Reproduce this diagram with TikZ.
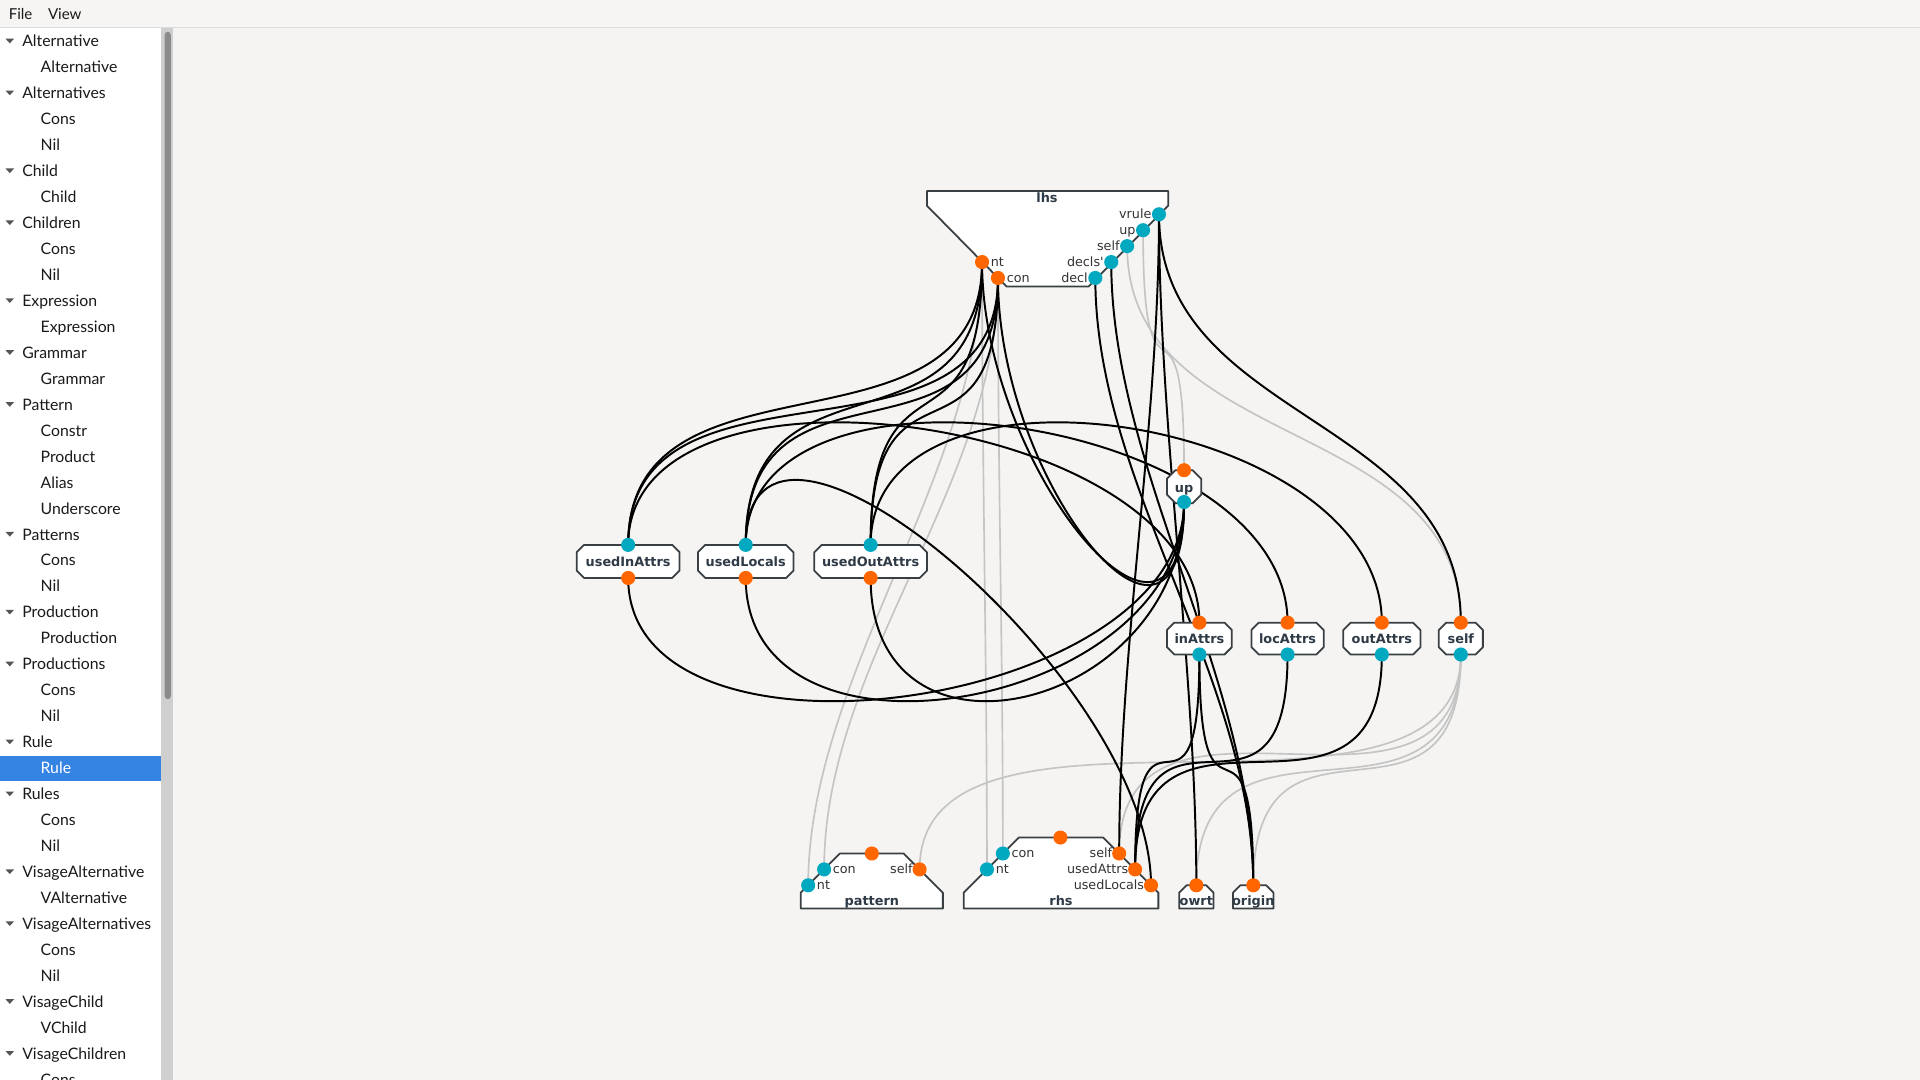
\documentclass[tikz,border=0pt]{standalone}
\usepackage{fontspec}
\setmainfont{Lato}
\newfontfamily\gfont{DejaVu Sans}
\usetikzlibrary{calc}
\definecolor{bgc}{HTML}{F5F4F2}
\definecolor{menubg}{HTML}{F6F5F4}
\definecolor{menuline}{HTML}{DCDCDC}
\definecolor{porto}{HTML}{FF6600}
\definecolor{portc}{HTML}{00A9BF}
\definecolor{nodeborder}{HTML}{3A3F44}
\definecolor{nodetext}{HTML}{2E3A46}
\definecolor{labeltext}{HTML}{333333}
\definecolor{grayedge}{HTML}{C4C4C4}
\definecolor{selblue}{HTML}{3584E4}
\definecolor{scrolltrack}{HTML}{CFCFCF}
\definecolor{scrollthumb}{HTML}{8B8B8B}
\definecolor{tric}{HTML}{555555}
\definecolor{sidetext}{HTML}{1A1A1A}
\newcommand{\ChBox}[7]{% name, x1, y1, x2, y2, chamfer, text
  \draw[shapebox] ({#2+#6},#3) -- ({#4-#6},#3) -- (#4,{#3+#6}) -- (#4,{#5-#6}) -- ({#4-#6},#5) -- ({#2+#6},#5) -- (#2,{#5-#6}) -- (#2,{#3+#6}) -- cycle;
  \node[nlab] (#1) at ({(#2+#4)/2},{(#3+#5)/2+4.3}) {#7};
}
\begin{document}
\begin{tikzpicture}[x=1pt,y=-1pt,
  edge/.style={line width=1.6pt, black},
  gedge/.style={line width=1.35pt, grayedge},
  shapebox/.style={draw=nodeborder, line width=1.45pt, fill=white, line join=round},
  oport/.style={circle, fill=porto, inner sep=0pt, minimum size=11.5pt},
  cport/.style={circle, fill=portc, inner sep=0pt, minimum size=11.5pt},
  nlab/.style={font=\gfont\bfseries\fontsize{10.5}{12}\selectfont, text=nodetext, inner sep=0pt, anchor=base},
  plabw/.style={font=\gfont\fontsize{10.4}{12}\selectfont, text=labeltext, inner sep=0pt, anchor=base west},
  plabe/.style={font=\gfont\fontsize{10.4}{12}\selectfont, text=labeltext, inner sep=0pt, anchor=base east},
  side/.style={font=\fontsize{12.9}{15}\selectfont, text=sidetext, inner sep=0pt, anchor=base west}]
\useasboundingbox (0,0) rectangle (1568,882);
\clip (0,0) rectangle (1568,882);
% backgrounds
\fill[bgc] (0,0) rectangle (1568,882);
\fill[menubg] (0,0) rectangle (1568,22.5);
\draw[menuline, line width=0.8pt] (0,22.5) -- (1568,22.5);
\node[side, font=\fontsize{12.3}{14}\selectfont] (mfile) at (7,15.8) {File};
\node[side, font=\fontsize{12.3}{14}\selectfont] (mview) at (39,15.8) {View};
\fill[white] (0,23) rectangle (131.5,882);
\fill[scrolltrack] (131.5,23) rectangle (141.5,882);
\fill[scrollthumb, rounded corners=2.5pt] (134.5,26) rectangle (139.5,571);
\fill[selblue] (0,617) rectangle (131.5,637.5);
\foreach \k/\t/\g in {0/Alternative/1, 1/Alternative/0, 2/Alternatives/1, 3/Cons/0, 4/Nil/0,
  5/Child/1, 6/Child/0, 7/Children/1, 8/Cons/0, 9/Nil/0, 10/Expression/1, 11/Expression/0,
  12/Grammar/1, 13/Grammar/0, 14/Pattern/1, 15/Constr/0, 16/Product/0, 17/Alias/0, 18/Underscore/0,
  19/Patterns/1, 20/Cons/0, 21/Nil/0, 22/Production/1, 23/Production/0, 24/Productions/1, 25/Cons/0,
  26/Nil/0, 27/Rule/1, 28/Rule/2, 29/Rules/1, 30/Cons/0, 31/Nil/0, 32/VisageAlternative/1,
  33/VAlternative/0, 34/VisageAlternatives/1, 35/Cons/0, 36/Nil/0, 37/VisageChild/1, 38/VChild/0,
  39/VisageChildren/1, 40/Cons/0}{
  \pgfmathsetmacro\yy{33.4+21.2*\k}
  \ifnum\g=1
    \fill[tric] (4.5,\yy-1.8) -- (11.5,\yy-1.8) -- (8,\yy+2) -- cycle;
    \node[side] (sb\k) at (18,\yy+4.8) {\t};
  \else
    \ifnum\g=2
      \node[side, text=white] (sb\k) at (33,\yy+4.8) {\t};
    \else
      \node[side] (sb\k) at (33,\yy+4.8) {\t};
    \fi
  \fi
}
% port coordinates
\coordinate (lhs-vrule) at (946.5,175);
\coordinate (lhs-up) at (933.5,188);
\coordinate (lhs-self) at (920.5,201);
\coordinate (lhs-decls) at (907.5,214);
\coordinate (lhs-decl) at (894.5,227);
\coordinate (lhs-nt) at (802,214);
\coordinate (lhs-con) at (815,227);
\coordinate (rhs-top) at (866,684);
\coordinate (rhs-con) at (819,697);
\coordinate (rhs-nt) at (806,710);
\coordinate (rhs-self) at (914,697);
\coordinate (rhs-ua) at (927,710);
\coordinate (rhs-ul) at (940,723);
\coordinate (pat-top) at (712,697);
\coordinate (pat-con) at (673,710);
\coordinate (pat-nt) at (660,723);
\coordinate (pat-self) at (751,710);
\coordinate (owrt-p) at (977,723);
\coordinate (orig-p) at (1023.5,723);
\coordinate (ua-t) at (513,445);
\coordinate (ua-b) at (513,472);
\coordinate (ul-t) at (609,445);
\coordinate (ul-b) at (609,472);
\coordinate (uo-t) at (711,445);
\coordinate (uo-b) at (711,472);
\coordinate (up-t) at (967,384);
\coordinate (up-b) at (967,410);
\coordinate (ia-t) at (979.5,508.5);
\coordinate (ia-b) at (979.5,534.5);
\coordinate (la-t) at (1051.5,508.5);
\coordinate (la-b) at (1051.5,534.5);
\coordinate (oa-t) at (1128.5,508.5);
\coordinate (oa-b) at (1128.5,534.5);
\coordinate (sf-t) at (1193,508.5);
\coordinate (sf-b) at (1193,534.5);
% gray edges
\draw[gedge] (lhs-nt) .. controls +(0,170) and +(0,-170) .. (pat-nt);
\draw[gedge] (lhs-con) .. controls +(0,170) and +(0,-170) .. (pat-con);
\draw[gedge] (lhs-nt) .. controls +(0,170) and +(0,-170) .. (rhs-nt);
\draw[gedge] (lhs-con) .. controls +(0,170) and +(0,-170) .. (rhs-con);
\draw[gedge] (lhs-up) .. controls +(0,170) and +(0,-170) .. (up-t);
\draw[gedge] (lhs-self) .. controls +(0,170) and +(0,-170) .. (sf-t);
\draw[gedge] (sf-b) .. controls +(0,170) and +(0,-170) .. (pat-self);
\draw[gedge] (sf-b) .. controls +(0,170) and +(0,-170) .. (rhs-self);
\draw[gedge] (sf-b) .. controls +(0,170) and +(0,-170) .. (owrt-p);
\draw[gedge] (sf-b) .. controls +(0,170) and +(0,-170) .. (orig-p);
% black edges
\draw[edge] (lhs-nt) .. controls +(0,170) and +(0,-170) .. (ua-t);
\draw[edge] (lhs-con) .. controls +(0,170) and +(0,-170) .. (ua-t);
\draw[edge] (lhs-nt) .. controls +(0,170) and +(0,-170) .. (ul-t);
\draw[edge] (lhs-con) .. controls +(0,170) and +(0,-170) .. (ul-t);
\draw[edge] (lhs-nt) .. controls +(0,170) and +(0,-170) .. (uo-t);
\draw[edge] (lhs-con) .. controls +(0,170) and +(0,-170) .. (uo-t);
\draw[edge] (lhs-nt) .. controls +(0,170) and +(0,170) .. (up-b);
\draw[edge] (lhs-con) .. controls +(0,170) and +(0,170) .. (up-b);
\draw[edge] (ua-t) .. controls +(0,-170) and +(0,-170) .. (ia-t);
\draw[edge] (ul-t) .. controls +(0,-170) and +(0,-170) .. (la-t);
\draw[edge] (uo-t) .. controls +(0,-170) and +(0,-170) .. (oa-t);
\draw[edge] (ul-t) .. controls +(0,-170) and +(0,-170) .. (rhs-ul);
\draw[edge] (ua-b) .. controls +(0,170) and +(0,170) .. (up-b);
\draw[edge] (ul-b) .. controls +(0,170) and +(0,170) .. (up-b);
\draw[edge] (uo-b) .. controls +(0,170) and +(0,170) .. (up-b);
\draw[edge] (lhs-vrule) .. controls +(0,170) and +(0,-170) .. (sf-t);
\draw[edge] (lhs-vrule) .. controls +(0,170) and +(0,-170) .. (rhs-self);
\draw[edge] (lhs-vrule) .. controls +(0,170) and +(0,-170) .. (owrt-p);
\draw[edge] (lhs-decl) .. controls +(0,170) and +(0,-170) .. (orig-p);
\draw[edge] (lhs-decls) .. controls +(0,170) and +(0,-170) .. (orig-p);
\draw[edge] (ia-b) .. controls +(0,170) and +(0,-170) .. (orig-p);
\draw[edge] (ia-b) .. controls +(0,170) and +(0,-170) .. (rhs-ua);
\draw[edge] (la-b) .. controls +(0,170) and +(0,-170) .. (rhs-ua);
\draw[edge] (oa-b) .. controls +(0,170) and +(0,-170) .. (rhs-ua);
% node shapes
\draw[shapebox] (757,156) -- (954,156) -- (954,168) -- (889,234) -- (822,234) -- (757,168) -- cycle;
\node[nlab] (lhs) at (855,165.5) {lhs};
\draw[shapebox] (654,742) -- (654,729) -- (686,697) -- (738,697) -- (770,729) -- (770,742) -- cycle;
\node[nlab] (pattern) at (712,739.5) {pattern};
\draw[shapebox] (787,742) -- (787,729) -- (832,684) -- (901,684) -- (946,729) -- (946,742) -- cycle;
\node[nlab] (rhs) at (866.5,739.5) {rhs};
\draw[shapebox] (963,742) -- (963,729) -- (969,723) -- (985,723) -- (991,729) -- (991,742) -- cycle;
\node[nlab] (owrt) at (977,739.5) {owrt};
\draw[shapebox] (1007,742) -- (1007,729) -- (1013,723) -- (1034,723) -- (1040,729) -- (1040,742) -- cycle;
\node[nlab] (origin) at (1023.5,739.5) {origin};
\ChBox{ua}{471}{445}{555}{472}{6}{usedInAttrs}
\ChBox{ul}{570}{445}{648}{472}{6}{usedLocals}
\ChBox{uo}{665}{445}{757}{472}{6}{usedOutAttrs}
\ChBox{up}{953}{384}{981}{411}{7}{up}
\ChBox{ia}{953}{508.5}{1006}{534.5}{6}{inAttrs}
\ChBox{la}{1022}{508.5}{1081}{534.5}{6}{locAttrs}
\ChBox{oa}{1097}{508.5}{1160}{534.5}{6}{outAttrs}
\ChBox{sf}{1175}{508.5}{1211}{534.5}{6}{self}
% ports
\foreach \p in {lhs-vrule,lhs-up,lhs-self,lhs-decls,lhs-decl,rhs-con,rhs-nt,pat-con,pat-nt,ua-t,ul-t,uo-t,up-b,ia-b,la-b,oa-b,sf-b}
  \node[cport] (d-\p) at (\p) {};
\foreach \p in {lhs-nt,lhs-con,rhs-top,rhs-self,rhs-ua,rhs-ul,pat-top,pat-self,owrt-p,orig-p,ua-b,ul-b,uo-b,up-t,ia-t,la-t,oa-t,sf-t}
  \node[oport] (d-\p) at (\p) {};
% port labels
\node[plabe] (t-vrule) at ($(lhs-vrule)+(-6,3.5)$) {vrule};
\node[plabe] (t-up) at ($(lhs-up)+(-6,3.5)$) {up};
\node[plabe] (t-self) at ($(lhs-self)+(-6,3.5)$) {self};
\node[plabe] (t-decls) at ($(lhs-decls)+(-6,3.5)$) {decls'};
\node[plabe] (t-decl) at ($(lhs-decl)+(-6,3.5)$) {decl};
\node[plabw] (t-nt) at ($(lhs-nt)+(7,3.5)$) {nt};
\node[plabw] (t-con) at ($(lhs-con)+(7,3.5)$) {con};
\node[plabw] (t-rcon) at ($(rhs-con)+(7,3.5)$) {con};
\node[plabw] (t-rnt) at ($(rhs-nt)+(7,3.5)$) {nt};
\node[plabe] (t-rself) at ($(rhs-self)+(-5.5,3.5)$) {self};
\node[plabe] (t-rua) at ($(rhs-ua)+(-5.5,3.5)$) {usedAttrs};
\node[plabe] (t-rul) at ($(rhs-ul)+(-5.5,3.5)$) {usedLocals};
\node[plabw] (t-pcon) at ($(pat-con)+(7,3.5)$) {con};
\node[plabw] (t-pnt) at ($(pat-nt)+(7,3.5)$) {nt};
\node[plabe] (t-pself) at ($(pat-self)+(-5.5,3.5)$) {self};
\end{tikzpicture}
\end{document}
